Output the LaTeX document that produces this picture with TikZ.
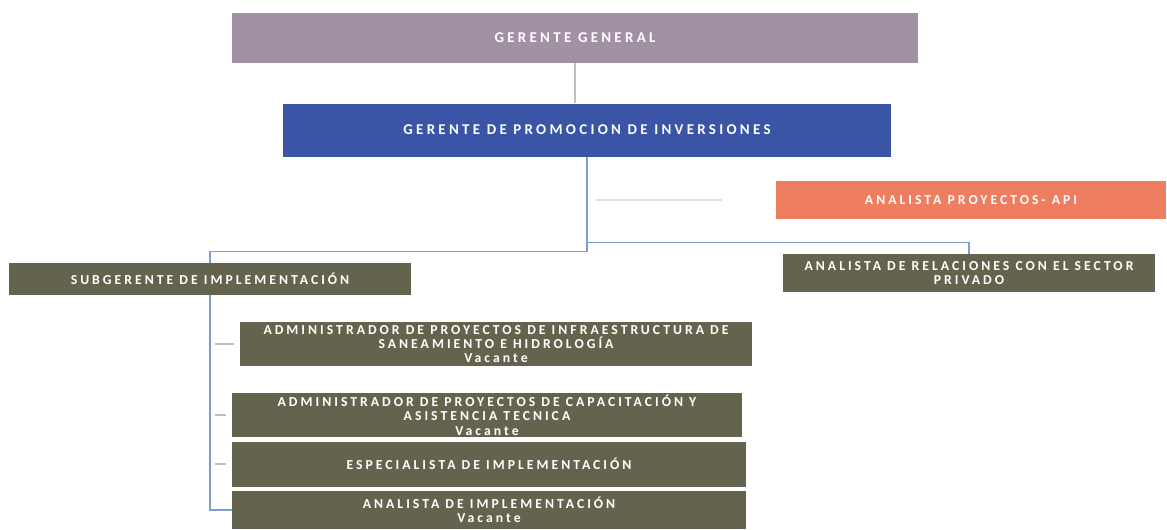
\documentclass[tikz,border=0pt]{standalone}
\usepackage{fontspec}
\setmainfont{Carlito}
\newfontfamily\boxfont[LetterSpace=22]{Carlito}
\definecolor{mauve}{HTML}{A291A5}
\definecolor{gpiblue}{HTML}{3A54A6}
\definecolor{apiorange}{HTML}{EF7E60}
\definecolor{olive}{HTML}{64644E}
\definecolor{linkblue}{HTML}{7E9ED2}
\tikzset{
  orgbox/.style={rectangle,inner sep=1pt,text=white,align=center,
    font=\boxfont\bfseries\fontsize{7.8}{8.2}\selectfont},
  topbox/.style={orgbox,font=\boxfont\bfseries\fontsize{8.5}{9}\selectfont},
  bline/.style={linkblue,line width=.7pt},
  gline/.style={black!25,line width=.7pt,shorten <=3pt,shorten >=3pt}
}
\begin{document}
\begin{tikzpicture}[x=0.02cm,y=-0.02cm]

        \useasboundingbox (0,0) rectangle (1167,529);

        \begin{scope}[every node/.style={orgbox,fill=olive}]
          \node[topbox,fill=mauve,minimum width=13.72cm,minimum height=1cm] (gg) at (575,38) {GERENTE GENERAL};
          \node[topbox,fill=gpiblue,minimum width=12.18cm,minimum height=1.06cm] (gpi) at (587,130) {GERENTE DE PROMOCION DE INVERSIONES};
          \node[fill=apiorange,minimum width=7.82cm,minimum height=0.76cm] (api) at (971,200) {ANALISTA PROYECTOS- API};
          \node[minimum width=8.04cm,minimum height=0.64cm] (sub) at (210,279) {SUBGERENTE DE IMPLEMENTACIÓN};
          \node[minimum width=7.44cm,minimum height=0.76cm] (rel) at (969,273) {ANALISTA DE RELACIONES CON EL SECTOR\\PRIVADO};
          \node[minimum width=10.24cm,minimum height=0.88cm] (adm1) at (496,344) {ADMINISTRADOR DE PROYECTOS DE INFRAESTRUCTURA DE\\SANEAMIENTO E HIDROLOGÍA\\Vacante};
          \node[minimum width=10.2cm,minimum height=0.88cm] (adm2) at (487,415) {ADMINISTRADOR DE PROYECTOS DE CAPACITACIÓN Y\\ASISTENCIA TECNICA\\Vacante};
          \node[minimum width=10.28cm,minimum height=0.9cm] (esp) at (489,464) {ESPECIALISTA DE IMPLEMENTACIÓN};
          \node[minimum width=10.28cm,minimum height=0.76cm] (ana) at (489,510) {ANALISTA DE IMPLEMENTACIÓN\\Vacante};
        \end{scope}

        \path (gpi.south) ++(0,95) coordinate (jl);
        \path (gpi.south) ++(0,86) coordinate (jr);

        \draw[black!25,line width=.7pt] (gg.south) -- (gg.south |- gpi.north);
        \draw[bline] (gpi.south) -- (jl) -| (sub.north);
        \draw[bline] (gpi.south) -- (jr) -| (rel.north);
        \draw[black!12,line width=.7pt,shorten <=5pt,shorten >=30pt] (gpi.south |- api.west) -- (api.west);
        \draw[bline] (sub.south) |- (ana.west);
        \draw[gline] (sub.south |- adm1.west) -- (adm1.west);
        \draw[gline] (sub.south |- adm2.west) -- (adm2.west);
        \draw[gline] (sub.south |- esp.west) -- (esp.west);

      \end{tikzpicture}
\end{document}
